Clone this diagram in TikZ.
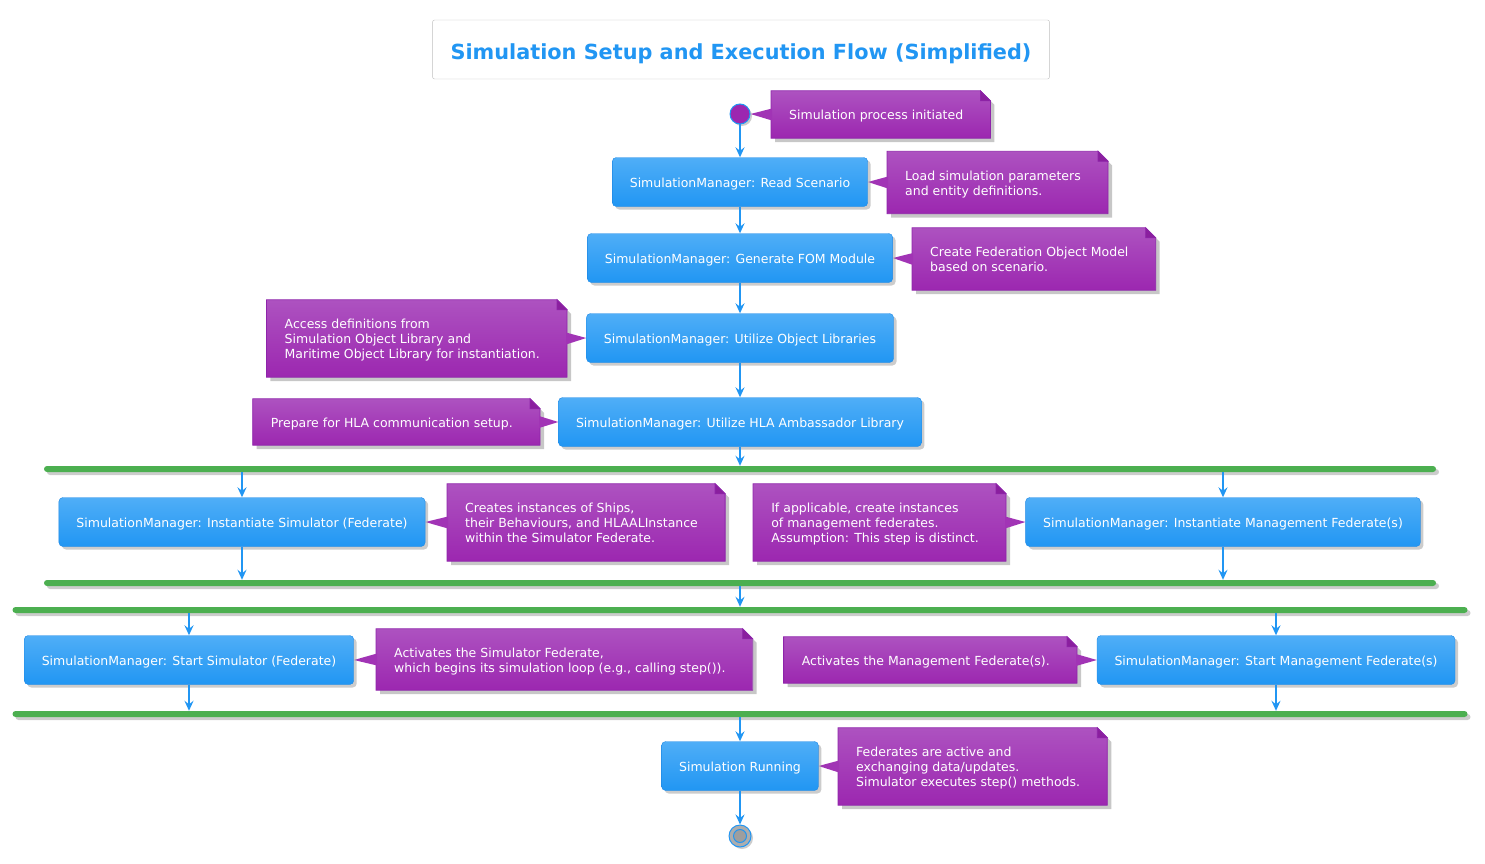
\documentclass[tikz,border=0pt]{standalone}
\usepackage{fontspec}
\setmainfont{DejaVu Sans}
\usetikzlibrary{arrows.meta,shadows}
\definecolor{boxtop}{HTML}{4FAEF7}
\definecolor{boxbot}{HTML}{2196F3}
\definecolor{boxline}{HTML}{1E88E5}
\definecolor{notetop}{HTML}{AD52C0}
\definecolor{notebot}{HTML}{9C27B0}
\definecolor{noteline}{HTML}{8E24AA}
\definecolor{notefold}{HTML}{8A1F9E}
\definecolor{flowblue}{HTML}{2196F3}
\definecolor{bargreen}{HTML}{4CAF50}
\definecolor{startpurple}{HTML}{9C27B0}
\pgfdeclarelayer{bg}
\pgfsetlayers{bg,main}
\tikzset{
  every node/.style={font=\fontsize{12.5}{15}\selectfont},
  stepbox/.style={rounded corners=4pt, draw=boxline, top color=boxtop, bottom color=boxbot,
    text=white, inner xsep=17.5pt, inner ysep=0pt, minimum height=49pt,
    text height=11pt, text depth=0.5pt,
    drop shadow={shadow xshift=3pt, shadow yshift=-3pt, fill=black!40, opacity=.5}},
  notebox/.style={align=left, text=white, inner xsep=18pt, inner ysep=0pt, text depth=0pt},
  oneline/.style={minimum height=47pt, text height=10pt},
  twolines/.style={minimum height=62pt, text height=25pt},
  threelines/.style={minimum height=77pt, text height=40pt},
  forkbar/.style={fill=bargreen, rounded corners=3pt, minimum height=6pt, inner sep=0pt,
    drop shadow={shadow xshift=3pt, shadow yshift=-3pt, fill=black!40, opacity=.5}},
  titlebox/.style={draw=black!25, fill=white, rounded corners=2pt, text=boxbot,
    font=\fontsize{20.8}{25}\selectfont\bfseries, inner xsep=18pt, inner ysep=0pt,
    minimum height=59pt, text height=21pt, text depth=0pt},
  flow/.style={draw=flowblue, line width=2.2pt, -{Stealth[length=10pt, width=9pt, inset=3.5pt]}},
}
\newcommand{\notebg}[1]{%
  \fill[black!22] ([shift={(4pt,-4pt)}]#1.north west) -- ([shift={(3pt,-4pt)}]#1.north east)
    -- ([shift={(13pt,-14pt)}]#1.north east) -- ([shift={(13pt,-4pt)}]#1.south east)
    -- ([shift={(4pt,-4pt)}]#1.south west) -- cycle;
  \shade[top color=notetop, bottom color=notebot, draw=noteline, line width=.8pt]
    (#1.north west) -- ([xshift=-1pt]#1.north east) -- ([shift={(9pt,-10pt)}]#1.north east)
    -- ([xshift=9pt]#1.south east) -- (#1.south west) -- cycle;
  \filldraw[fill=notefold, draw=noteline, line width=.8pt] ([xshift=-1pt]#1.north east)
    -- ([shift={(-1pt,-10pt)}]#1.north east) -- ([shift={(9pt,-10pt)}]#1.north east) -- cycle;
}
\newcommand{\notetip}[3]{%
  \fill[notebot!70!notetop] ([shift={(#2,6pt)}]#1) -- (#3) -- ([shift={(#2,-6pt)}]#1) -- cycle;
}
\begin{document}
\begin{tikzpicture}[x=1pt, y=-1pt]
  \useasboundingbox (0,0) rectangle (1485,864);

  \node[titlebox] (title) at (741,49.5) {Simulation Setup and Execution Flow (Simplified)};

  \node[circle, minimum size=20pt, inner sep=0pt, fill=startpurple, draw=flowblue, line width=1pt,
    drop shadow={shadow xshift=2pt, shadow yshift=-2pt, fill=black!40, opacity=.5}] (start) at (740,114) {};
  \node[stepbox] (read) at (740,182) {SimulationManager: Read Scenario};
  \node[stepbox] (fom) at (740,258) {SimulationManager: Generate FOM Module};
  \node[stepbox] (objlib) at (740,338) {SimulationManager: Utilize Object Libraries};
  \node[stepbox] (hla) at (740,422) {SimulationManager: Utilize HLA Ambassador Library};
  \node[forkbar, minimum width=1392pt] (fork1) at (740,469) {};
  \node[stepbox] (instsim) at (242,522) {SimulationManager: Instantiate Simulator (Federate)};
  \node[stepbox] (instmgmt) at (1223,522) {SimulationManager: Instantiate Management Federate(s)};
  \node[forkbar, minimum width=1392pt] (join1) at (740,583) {};
  \node[forkbar, minimum width=1455pt] (fork2) at (740,610) {};
  \node[stepbox] (startsim) at (189,660) {SimulationManager: Start Simulator (Federate)};
  \node[stepbox] (startmgmt) at (1276,660) {SimulationManager: Start Management Federate(s)};
  \node[forkbar, minimum width=1455pt] (join2) at (740,714) {};
  \node[stepbox] (running) at (740,766) {Simulation Running};
  \node[circle, minimum size=22pt, inner sep=0pt, fill=black!32, draw=flowblue, line width=1pt,
    drop shadow={shadow xshift=2pt, shadow yshift=-2pt, fill=black!40, opacity=.5}] (stop) at (740,836) {};
  \draw[flowblue, fill=black!38, line width=1pt] (stop) circle (6.5pt);

  \node[notebox, oneline, anchor=west] (n1) at (771,114.5) {Simulation process initiated};
  \node[notebox, twolines, anchor=west] (n2) at (887,182.5) {Load simulation parameters\\and entity definitions.};
  \node[notebox, twolines, anchor=west] (n3) at (912,259) {Create Federation Object Model\\based on scenario.};
  \node[notebox, threelines, anchor=east] (n4) at (558,338.5) {Access definitions from\\Simulation Object Library and\\Maritime Object Library for instantiation.};
  \node[notebox, oneline, anchor=east, minimum height=46pt] (n5) at (531,422) {Prepare for HLA communication setup.};
  \node[notebox, threelines, anchor=west] (n6) at (447,522.5) {Creates instances of Ships,\\their Behaviours, and HLAALInstance\\within the Simulator Federate.};
  \node[notebox, threelines, anchor=east] (n7) at (997,522.5) {If applicable, create instances\\of management federates.\\Assumption: This step is distinct.};
  \node[notebox, twolines, anchor=west, minimum height=61pt] (n8) at (376,659.5) {Activates the Simulator Federate,\\which begins its simulation loop (e.g., calling step()).};
  \node[notebox, oneline, anchor=east, minimum height=46pt] (n9) at (1068,660) {Activates the Management Federate(s).};
  \node[notebox, threelines, anchor=west] (n10) at (838,766.5) {Federates are active and\\exchanging data/updates.\\Simulator executes step() methods.};

  \begin{pgfonlayer}{bg}
    \notebg{n1} \notetip{n1.west}{1pt}{start.east}
    \notebg{n2} \notetip{n2.west}{1pt}{read.east}
    \notebg{n3} \notetip{n3.west}{1pt}{fom.east}
    \notebg{n4} \notetip{n4.east}{8pt}{objlib.west}
    \notebg{n5} \notetip{n5.east}{8pt}{hla.west}
    \notebg{n6} \notetip{n6.west}{1pt}{instsim.east}
    \notebg{n7} \notetip{n7.east}{8pt}{instmgmt.west}
    \notebg{n8} \notetip{n8.west}{1pt}{startsim.east}
    \notebg{n9} \notetip{n9.east}{8pt}{startmgmt.west}
    \notebg{n10} \notetip{n10.west}{1pt}{running.east}
  \end{pgfonlayer}

  \draw[flow] (start) -- (read);
  \draw[flow] (read) -- (fom);
  \draw[flow] (fom) -- (objlib);
  \draw[flow] (objlib) -- (hla);
  \draw[flow] (hla) -- (hla.south |- fork1.north);
  \draw[flow] (instsim.north |- fork1.south) -- (instsim);
  \draw[flow] (instmgmt.north |- fork1.south) -- (instmgmt);
  \draw[flow] (instsim) -- (instsim.south |- join1.north);
  \draw[flow] (instmgmt) -- (instmgmt.south |- join1.north);
  \draw[flow] (hla.south |- join1.south) -- (hla.south |- fork2.north);
  \draw[flow] (startsim.north |- fork2.south) -- (startsim);
  \draw[flow] (startmgmt.north |- fork2.south) -- (startmgmt);
  \draw[flow] (startsim) -- (startsim.south |- join2.north);
  \draw[flow] (startmgmt) -- (startmgmt.south |- join2.north);
  \draw[flow] (running.north |- join2.south) -- (running);
  \draw[flow] (running) -- (stop);
\end{tikzpicture}
\end{document}
